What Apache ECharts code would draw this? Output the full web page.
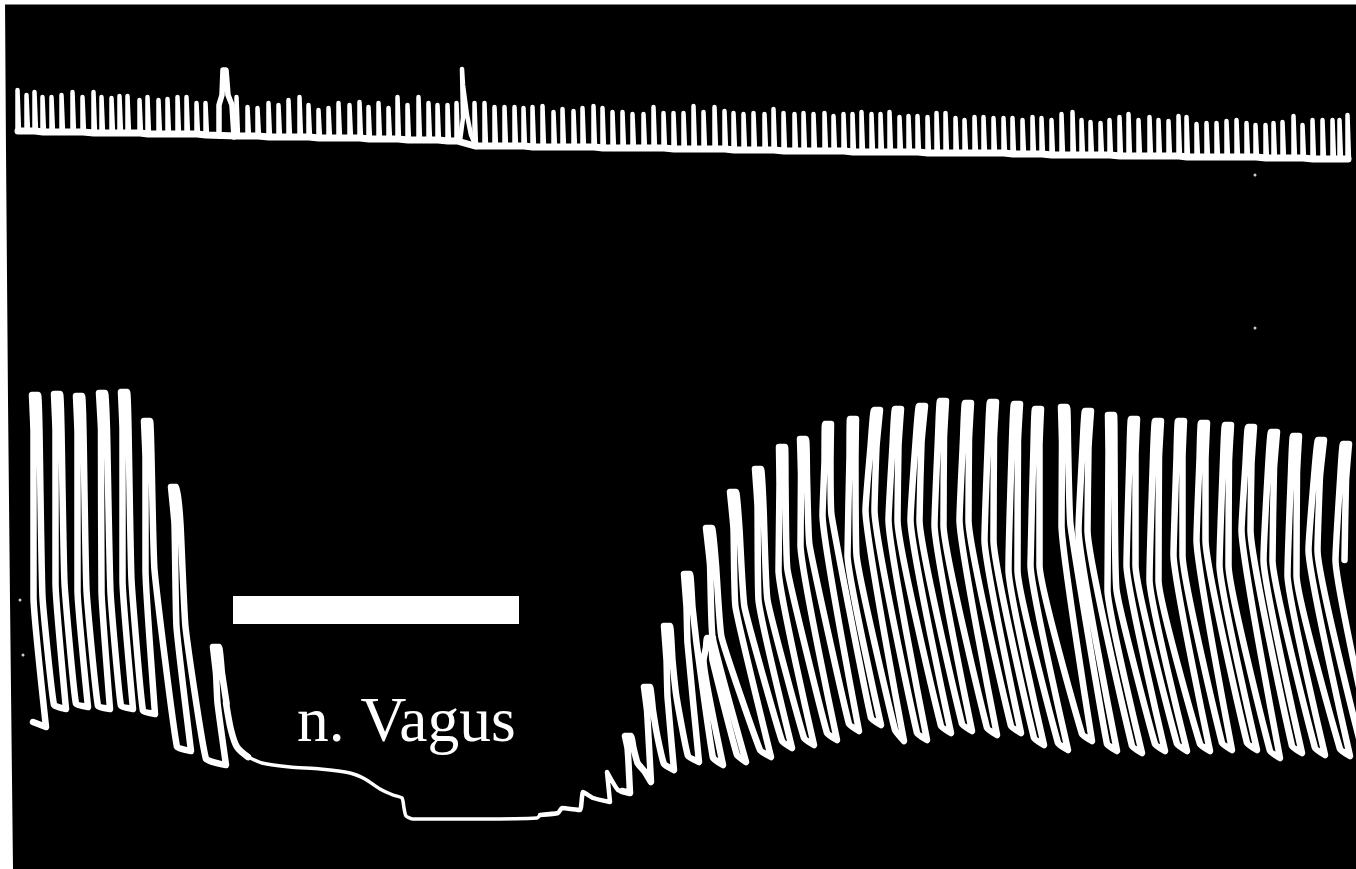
<!DOCTYPE html>
<html><head><meta charset="utf-8">
<style>html,body{margin:0;padding:0;background:#000}#c{width:1356px;height:869px}</style>
<script src="https://cdn.jsdelivr.net/npm/echarts@6/dist/echarts.min.js"></script>
</head><body><div id="c"></div>
<script>
// ---- upper trace: spike x, spike top, baseline under the spike
const spikeX=[18,27,35,43,52,62,73,83,94,102,112,120,128,140,148,159,168,178,187,197,206,
237,248,258,269,279,289,300,309,319,329,339,350,360,369,379,389,398,408,419,429,438,448,457,
475,485,495,505,515,524,533,543,554,563,574,583,594,603,613,623,633,644,654,664,674,684,694,704,715,725,734,744,754,765,774,784,795,
804,814,825,834,844,853,862,872,881,890,900,909,918,928,937,946,956,965,975,984,994,1004,1013,1023,1033,1042,1052,1062,
1073,1082,1091,1101,1110,1120,1129,1139,1150,1159,1169,1179,1187,1197,1207,1217,1227,1237,1247,1256,1266,1274,1283,1294,1303,1313,1323,1333,1340,1348];
const spikeTop=[90,95,92,97,97,95,92,97,92,97,98,96,96,100,97,100,99,97,97,103,103,
97,107,108,103,105,100,97,105,110,108,103,105,102,107,103,108,97,105,97,103,105,105,103,
103,103,107,107,107,108,107,106,112,109,111,108,106,108,112,112,114,114,107,113,113,113,106,112,107,111,113,114,113,114,109,113,114,
113,114,113,116,114,114,112,114,114,112,117,116,116,117,113,113,118,120,117,117,118,118,118,120,117,118,120,114,
112,120,122,123,120,117,114,120,117,120,121,116,117,124,123,123,121,120,123,125,125,123,122,116,125,120,120,120,120,115];
const spikeBase=[131,131,131,132,132,132,132,132,133,133,133,133,133,133,134,134,134,134,134,134,135,
136,136,136,137,137,137,137,137,138,138,138,138,138,139,139,139,139,140,140,140,140,141,141,
146,146,146,146,146,146,147,147,147,147,147,147,147,148,148,148,148,148,148,148,149,149,149,149,149,149,150,150,150,150,150,151,151,
151,151,151,151,151,152,152,152,152,152,152,152,152,153,153,153,153,153,153,153,153,153,154,154,154,154,155,155,
155,155,155,155,155,156,156,156,156,156,156,156,157,157,157,157,157,157,157,157,158,158,158,158,158,159,159,159,159,159];
// the two large stimulus marks of the upper trace
const mark1X=[219,219,222,223,226,228,232,234], mark1Y=[136,105,95,70,70,95,105,137];
const mark2X=[460,463,462,463,467,471,476], mark2Y=[141,118,69,85,115,135,147];

// ---- lower trace, first run: trough left end, trough right end, fork of the two arms, peak
const aLeftX=[33,54,76,98,121,143,177,206];
const aLeftY=[722,705,704,706,706,711,747,759];
const aRightX=[46,66,88,110,133,155,191,226];
const aRightY=[727,709,707,709,709,714,751,765];
const aForkX=[38,60,82,106,127,150,181,222];
const aForkY=[597,583,590,592,580,570,627,703];
const aPeakX=[35,57,79,102,124,147,174,216];
const aPeakY=[392,391,393,390,389,418,484,644];
// thick end of the last beat of the first run
const fallX=[226,231,237,248], fallY=[703,730,747,757];

// ---- lower trace, the slow fall during vagus stimulation
const tailX=[248,262,290,320,350,365,380,393,402,404,406,413,480,537,540];
const tailY=[757,763,767,769,773,779,789,795,798,808,816,819,819,818,815];
// ---- the first small beats after the stimulation
const waveX=[540,558,562,580,583,593,610,607,618,630];
const waveY=[815,813,808,810,792,798,802,772,790,793];

// ---- lower trace, recovery
const bLeftX=[622,645,664,688,713,737,760,782,804,827,849,871,895,917,941,962,987,1011,1034,1058,1082,1107,1132,1155,1177,1200,1222,1247,1270,1292,1315,1340,1363];
const bLeftY=[791,772,764,756,758,755,750,741,738,733,724,718,730,733,726,724,728,726,738,743,734,744,746,744,744,744,743,743,751,746,748,749,753];
const bRightX=[630,651,674,699,723,746,771,792,814,837,859,881,904,927,951,972,997,1021,1044,1068,1092,1117,1142,1165,1187,1210,1232,1257,1280,1302,1325,1350,1375];
const bRightY=[793,782,770,762,765,762,757,748,745,740,731,725,741,740,733,731,735,733,745,750,741,751,753,751,751,751,750,750,758,753,755,756,760];
const bForkX=[633,653,672,692,708,717,740,763,783,805,827,852,870,893,915,939,964,989,1013,1035,1066,1083,1112,1131,1154,1178,1201,1224,1246,1268,1292,1313,1340];
const bForkY=[763,737,697,643,660,637,607,600,570,545,515,555,510,520,520,525,520,540,570,565,525,530,590,565,580,555,540,565,530,560,575,550,560];
const bPeakX=[628,647,667,687,710,709,733,758,782,803,828,853,877,898,922,943,968,993,1017,1038,1064,1088,1111,1134,1158,1181,1204,1228,1251,1274,1296,1321,1346];
const bPeakY=[733,684,623,571,635,525,489,466,444,436,421,416,407,406,403,398,400,399,401,406,404,408,412,416,418,418,420,422,424,429,433,437,441];

// ---- stimulus bar and label
const barX=[233,519], barY=[610,610];
const label='n. Vagus';
// ---- scan edges and stray specks
const edgeLeftX=[-3,-2,0,2,5], edgeLeftY=[0,150,400,600,869];
const edgeTopX=[0,1356], edgeTopY=[2,2];
const speckX=[1255,1255,20,23], speckY=[175,328,600,655];

const zip=(xs,ys)=>xs.map((x,i)=>[x,ys[i]]);
function spikePath(){
  const p=[];
  spikeX.forEach((x,i)=>{
    p.push([x-0.5,spikeBase[i]],[x-0.5,spikeTop[i]],[x+0.5,spikeTop[i]],[x+1,spikeBase[i]]);
  });
  return p;
}
function beatPath(lx,ly,rx,ry,fx,fy,px,py){
  const p=[];
  px.forEach((x,i)=>{
    const drop=Math.min(40,(fy[i]-py[i])/2), sx=(x+fx[i])/2;
    p.push([lx[i],ly[i]],[rx[i],ry[i]],
      [fx[i]-4.5,fy[i]],[sx-3,py[i]+drop],[x-3,py[i]+3],
      [x+3,py[i]+3],[sx+3,py[i]+drop],[fx[i]+4.5,fy[i]]);
  });
  return p;
}
const line=(data,w,cap,smooth)=>({type:'line',data,showSymbol:false,silent:true,animation:false,smooth:smooth||false,
  lineStyle:{color:'#fff',width:w,cap:cap||'round',join:'round'}});

const chart=echarts.init(document.getElementById('c'),null,{renderer:'canvas'});
chart.setOption({
  backgroundColor:'#000',animation:false,
  title:{text:label,left:292,top:687,textStyle:{color:'#fff',fontFamily:'"Liberation Serif",serif',fontSize:63.5,fontWeight:'normal'}},
  grid:{left:0,right:0,top:0,bottom:0},
  xAxis:{type:'value',min:0,max:1356,show:false},
  yAxis:{type:'value',min:0,max:869,inverse:true,show:false},
  series:[
    line(zip(edgeLeftX,edgeLeftY),16,'butt'),
    line(zip(edgeTopX,edgeTopY),5,'butt'),
    line(zip(spikeX,spikeBase),7),
    line(spikePath(),4.5),
    line(zip(mark1X,mark1Y),5.5),
    line(zip(mark2X,mark2Y),4.5),
    line(beatPath(aLeftX,aLeftY,aRightX,aRightY,aForkX,aForkY,aPeakX,aPeakY),6.5,'round',0.12),
    line(zip(fallX,fallY),6.5,'round',0.3),
    line(zip(tailX,tailY),3.5,'round',0.2),
    line(zip(waveX,waveY),4.5,'round',0.15),
    line(beatPath(bLeftX,bLeftY,bRightX,bRightY,bForkX,bForkY,bPeakX,bPeakY),6.5,'round',0.12),
    line(zip(barX,barY),28,'butt'),
    {type:'scatter',data:zip(speckX,speckY),symbolSize:3,silent:true,animation:false,itemStyle:{color:'#fff'}}
  ]
});
</script></body></html>
